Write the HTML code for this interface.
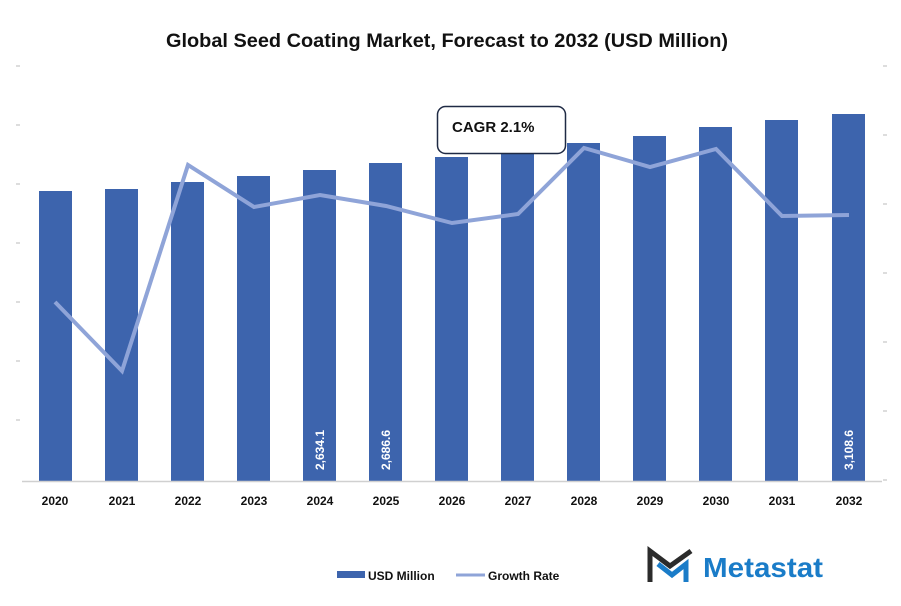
<!DOCTYPE html>
<html><head><meta charset="utf-8"><style>
body{margin:0;background:#fff}
svg{display:block;font-family:"Liberation Sans",sans-serif}
</style></head><body>
<svg width="901" height="606" viewBox="0 0 901 606">
<text x="166" y="47" textLength="562" lengthAdjust="spacingAndGlyphs" font-size="19" font-weight="bold" fill="#111">Global Seed Coating Market, Forecast to 2032 (USD Million)</text>
<g stroke="#bbb" stroke-width="1">
<line x1="16" x2="20" y1="66" y2="66"/><line x1="16" x2="20" y1="125" y2="125"/><line x1="16" x2="20" y1="184" y2="184"/><line x1="16" x2="20" y1="243" y2="243"/><line x1="16" x2="20" y1="302" y2="302"/><line x1="16" x2="20" y1="361" y2="361"/><line x1="16" x2="20" y1="420" y2="420"/>
<line x1="883" x2="887" y1="66" y2="66"/><line x1="883" x2="887" y1="135" y2="135"/><line x1="883" x2="887" y1="204" y2="204"/><line x1="883" x2="887" y1="273" y2="273"/><line x1="883" x2="887" y1="342" y2="342"/><line x1="883" x2="887" y1="411" y2="411"/><line x1="883" x2="887" y1="480" y2="480"/>
</g>
<g fill="#3d64ad">
<rect x="39" y="191" width="33" height="290"/>
<rect x="105" y="189" width="33" height="292"/>
<rect x="171" y="182" width="33" height="299"/>
<rect x="237" y="176" width="33" height="305"/>
<rect x="303" y="170" width="33" height="311"/>
<rect x="369" y="163" width="33" height="318"/>
<rect x="435" y="157" width="33" height="324"/>
<rect x="501" y="151" width="33" height="330"/>
<rect x="567" y="143" width="33" height="338"/>
<rect x="633" y="136" width="33" height="345"/>
<rect x="699" y="127" width="33" height="354"/>
<rect x="765" y="120" width="33" height="361"/>
<rect x="832" y="114" width="33" height="367"/>
</g>
<line x1="22" x2="882" y1="481.5" y2="481.5" stroke="#d0d0d0" stroke-width="1.5"/>
<polyline fill="none" stroke="#8fa4d8" stroke-width="4" stroke-linejoin="miter" points="55,302 122,371 188,165 254,207 320,195 386,206 452,223 518,214 584,148 650,167 716,149 782,216 849,215"/>
<g fill="#fff" font-size="12" font-weight="bold">
<text transform="translate(324,470) rotate(-90)">2,634.1</text>
<text transform="translate(390,470) rotate(-90)">2,686.6</text>
<text transform="translate(853,470) rotate(-90)">3,108.6</text>
</g>
<g font-size="12" font-weight="bold" fill="#111" text-anchor="middle">
<text x="55" y="505">2020</text><text x="122" y="505">2021</text><text x="188" y="505">2022</text><text x="254" y="505">2023</text><text x="320" y="505">2024</text><text x="386" y="505">2025</text><text x="452" y="505">2026</text><text x="518" y="505">2027</text><text x="584" y="505">2028</text><text x="650" y="505">2029</text><text x="716" y="505">2030</text><text x="782" y="505">2031</text><text x="849" y="505">2032</text>
</g>
<rect x="437.5" y="106.5" width="128" height="47" rx="8" fill="#fff" stroke="#1f2a44" stroke-width="1.5"/>
<text x="452" y="132" font-size="15" font-weight="bold" fill="#111">CAGR 2.1%</text>
<rect x="337" y="571" width="28" height="7" fill="#3d64ad"/>
<text x="368" y="580" font-size="12" font-weight="bold" fill="#111">USD Million</text>
<line x1="456" x2="485" y1="575" y2="575" stroke="#8fa4d8" stroke-width="3"/>
<text x="488" y="580" font-size="12" font-weight="bold" fill="#111">Growth Rate</text>
<polyline points="650,582 650,551 670,566 691,551" fill="none" stroke="#2b2b2b" stroke-width="5"/>
<polyline points="658,564 672,575 686,564 686,582" fill="none" stroke="#1a7cc8" stroke-width="5"/>
<text x="703" y="577" textLength="120" lengthAdjust="spacingAndGlyphs" font-size="28" font-weight="bold" fill="#1a7cc8">Metastat</text>
</svg>
</body></html>
